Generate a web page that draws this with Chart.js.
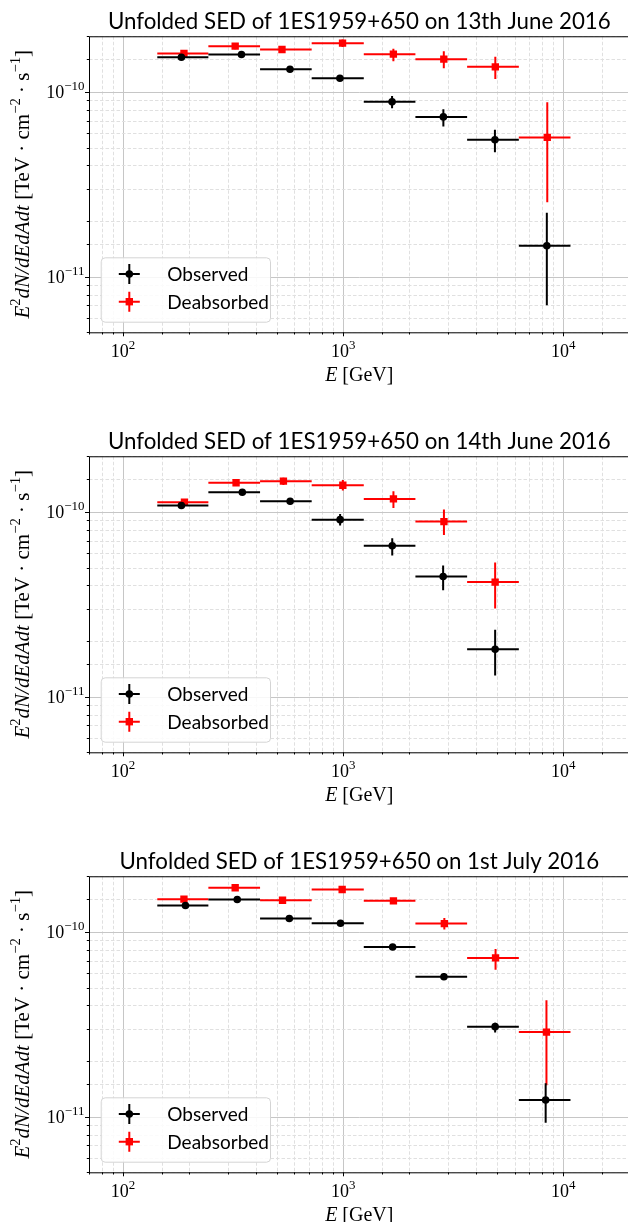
<!DOCTYPE html>
<html>
<head>
<meta charset="utf-8">
<script src="https://cdn.jsdelivr.net/npm/chart.js@4.4.0/dist/chart.umd.min.js"></script>
<style>
  html, body { margin: 0; padding: 0; background: #fff; overflow: hidden; }
  .panel { position: absolute; left: 0; }
</style>
</head>
<body>
<canvas id="sed13" class="panel" style="top:0" width="640" height="420"></canvas>
<canvas id="sed14" class="panel" style="top:420px" width="640" height="420"></canvas>
<canvas id="sed01" class="panel" style="top:840px" width="640" height="420"></canvas>
<script>
// energy bin edges [GeV], shared by all nights
const binEdges = [143, 244, 419, 719, 1240, 2128, 3655, 6278, 10775];

// 13th June 2016
const obs13E = [184, 345, 573, 966, 1667, 2851, 4889, 8414];
const obs13F = [1.54e-10, 1.594e-10, 1.326e-10, 1.185e-10, 8.83e-11, 7.32e-11, 5.51e-11, 1.47e-11];
const obs13Lo = [1.50e-10, 1.56e-10, 1.29e-10, 1.14e-10, 8.15e-11, 6.5e-11, 4.72e-11, 7.0e-12];
const obs13Hi = [1.58e-10, 1.63e-10, 1.36e-10, 1.23e-10, 9.51e-11, 8.05e-11, 6.24e-11, 2.22e-11];
const deab13E = [189, 323, 527, 993, 1690, 2864, 4909, 8453];
const deab13F = [1.614e-10, 1.768e-10, 1.696e-10, 1.835e-10, 1.60e-10, 1.503e-10, 1.366e-10, 5.67e-11];
const deab13Lo = [1.57e-10, 1.70e-10, 1.64e-10, 1.75e-10, 1.466e-10, 1.343e-10, 1.176e-10, 2.53e-11];
const deab13Hi = [1.66e-10, 1.84e-10, 1.75e-10, 1.92e-10, 1.71e-10, 1.66e-10, 1.549e-10, 8.78e-11];

// 14th June 2016
const obs14E = [184, 348, 574, 968, 1670, 2844, 4900];
const obs14F = [1.082e-10, 1.277e-10, 1.142e-10, 9.08e-11, 6.56e-11, 4.47e-11, 1.805e-11];
const obs14Lo = [1.04e-10, 1.24e-10, 1.10e-10, 8.43e-11, 5.81e-11, 3.77e-11, 1.30e-11];
const obs14Hi = [1.12e-10, 1.32e-10, 1.18e-10, 9.75e-11, 7.19e-11, 5.13e-11, 2.30e-11];
const deab14E = [190, 326, 535, 996, 1691, 2868, 4900];
const deab14F = [1.127e-10, 1.437e-10, 1.466e-10, 1.394e-10, 1.176e-10, 8.86e-11, 4.17e-11];
const deab14Lo = [1.08e-10, 1.38e-10, 1.40e-10, 1.305e-10, 1.051e-10, 7.50e-11, 3.00e-11];
const deab14Hi = [1.17e-10, 1.50e-10, 1.53e-10, 1.49e-10, 1.294e-10, 1.029e-10, 5.33e-11];

// 1st July 2016
const obs01E = [192, 330, 569, 972, 1677, 2868, 4900, 8312];
const obs01F = [1.389e-10, 1.497e-10, 1.181e-10, 1.113e-10, 8.29e-11, 5.72e-11, 3.07e-11, 1.23e-11];
const obs01Lo = [1.35e-10, 1.46e-10, 1.15e-10, 1.08e-10, 8.05e-11, 5.5e-11, 2.85e-11, 9.26e-12];
const obs01Hi = [1.43e-10, 1.54e-10, 1.21e-10, 1.145e-10, 8.55e-11, 6.0e-11, 3.22e-11, 1.515e-11];
const deab01E = [189, 323, 530, 989, 1691, 2880, 4921, 8381];
const deab01F = [1.503e-10, 1.733e-10, 1.484e-10, 1.696e-10, 1.473e-10, 1.109e-10, 7.23e-11, 2.87e-11];
const deab01Lo = [1.46e-10, 1.68e-10, 1.44e-10, 1.64e-10, 1.42e-10, 1.029e-10, 6.24e-11, 1.48e-11];
const deab01Hi = [1.55e-10, 1.79e-10, 1.53e-10, 1.75e-10, 1.52e-10, 1.19e-10, 8.09e-11, 4.26e-11];

const xRange = [70, 20000];
const yRange = [5e-12, 2e-10];
const seriesNames = ["Observed", "Deabsorbed"];

const SANS = "Lato";
const SERIF = "Liberation Serif";

const isDecade = v => Math.abs(Math.log10(v) - Math.round(Math.log10(v))) < 1e-6;
// "10" plus exponent as rich-text pieces, minus sign as U+2212
const decadeParts = v => [["10", "r"], [String(Math.round(Math.log10(v))).replace("-", "\u2212"), "s"]];

// draws text made of [text, style] pieces, style: "i" italic, "r" roman, "s" superscript
// align: 0 = centred on x, 1 = right edge on x
function drawRich(ctx, parts, x, baseline, size, align = 0, supScale = 0.7) {
    const fontOf = st => st === "i" ? `italic ${size}px ${SERIF}`
        : st === "s" ? `${size * supScale}px ${SERIF}` : `${size}px ${SERIF}`;
    let total = 0;
    parts.forEach(([t, st]) => { ctx.font = fontOf(st); total += ctx.measureText(t).width; });
    let px = align === 1 ? x - total : x - total / 2;
    ctx.textAlign = "left";
    ctx.textBaseline = "alphabetic";
    parts.forEach(([t, st]) => {
        ctx.font = fontOf(st);
        ctx.fillText(t, px, st === "s" ? baseline - size * 0.42 : baseline);
        px += ctx.measureText(t).width;
    });
}

function drawMarker(ctx, style, x, y, color) {
    ctx.fillStyle = color;
    if (style === "rect") {
        ctx.fillRect(x - 3.7, y - 3.7, 7.4, 7.4);
    } else {
        ctx.beginPath();
        ctx.arc(x, y, 3.8, 0, Math.PI * 2);
        ctx.fill();
    }
}

const sedPlugin = {
    id: "sed",
    beforeDatasetsDraw(chart) {
        // grid, minor dashed, decades solid
        const { ctx, chartArea: a, scales: { x, y } } = chart;
        ctx.save();
        ctx.beginPath();
        ctx.rect(a.left, a.top, a.right - a.left, a.bottom - a.top);
        ctx.clip();
        ctx.lineWidth = 1;
        const line = (x0, y0, x1, y1, major) => {
            ctx.strokeStyle = major ? "#c6c6c6" : "#e0e0e0";
            ctx.setLineDash(major ? [] : [3.5, 2]);
            ctx.beginPath();
            ctx.moveTo(x0, y0);
            ctx.lineTo(x1, y1);
            ctx.stroke();
        };
        x.ticks.forEach(t => {
            const px = Math.round(x.getPixelForValue(t.value)) + 0.5;
            line(px, a.top, px, a.bottom, isDecade(t.value));
        });
        y.ticks.forEach(t => {
            const py = Math.round(y.getPixelForValue(t.value)) + 0.5;
            line(a.left, py, a.right, py, isDecade(t.value));
        });
        ctx.restore();
    },
    beforeDatasetDraw(chart, args) {
        // error bars of this dataset, under its own markers
        const ds = chart.data.datasets[args.index];
        const { ctx, scales: { x, y } } = chart;
        ctx.save();
        ctx.strokeStyle = ds.borderColor;
        ctx.lineWidth = 2;
        ds.data.forEach((p, i) => {
            const px = x.getPixelForValue(p.x);
            const py = y.getPixelForValue(p.y);
            ctx.beginPath();
            ctx.moveTo(x.getPixelForValue(binEdges[i]), py);
            ctx.lineTo(x.getPixelForValue(binEdges[i + 1]), py);
            ctx.moveTo(px, y.getPixelForValue(ds.yLow[i]));
            ctx.lineTo(px, y.getPixelForValue(ds.yHigh[i]));
            ctx.stroke();
        });
        ctx.restore();
    },
    afterDraw(chart) {
        const { ctx, chartArea: a, scales: { x, y } } = chart;
        ctx.save();
        // spines
        ctx.strokeStyle = "#000";
        ctx.lineWidth = 1;
        ctx.strokeRect(a.left + 0.5, a.top + 0.5, a.right - a.left, a.bottom - a.top);
        // tick marks
        ctx.beginPath();
        x.ticks.forEach(t => {
            const px = Math.round(x.getPixelForValue(t.value)) + 0.5;
            ctx.moveTo(px, a.bottom);
            ctx.lineTo(px, a.bottom + (isDecade(t.value) ? 4 : 2.2));
        });
        y.ticks.forEach(t => {
            const py = Math.round(y.getPixelForValue(t.value)) + 0.5;
            ctx.moveTo(a.left, py);
            ctx.lineTo(a.left - (isDecade(t.value) ? 4 : 2.2), py);
        });
        ctx.stroke();

        // decade tick labels with a real superscript exponent
        ctx.fillStyle = "#000";
        x.ticks.filter(t => isDecade(t.value)).forEach(t => {
            drawRich(ctx, decadeParts(t.value), x.getPixelForValue(t.value), a.bottom + 24.4, 18, 0, 0.72);
        });
        y.ticks.filter(t => isDecade(t.value)).forEach(t => {
            drawRich(ctx, decadeParts(t.value), a.left - 4.5, y.getPixelForValue(t.value) + 6, 18, 1, 0.72);
        });

        // axis titles
        drawRich(ctx, [["E", "i"], [" [GeV]", "r"]], (a.left + a.right) / 2, a.bottom + 49, 20);
        ctx.save();
        ctx.translate(22, (a.top + a.bottom) / 2);
        ctx.rotate(-Math.PI / 2);
        drawRich(ctx, [["E", "i"], ["2", "s"], ["dN/dEdAdt", "i"], [" [TeV \u00B7 cm", "r"], ["\u22122", "s"],
            [" \u00B7 s", "r"], ["\u22121", "s"], ["]", "r"]], 0, 7, 21);
        ctx.restore();

        // legend in the lower left corner
        const bx = a.left + 11.7, bw = 169.3, bh = 64.4;
        const by = a.bottom - 10.6 - bh;
        ctx.fillStyle = "rgba(255,255,255,0.85)";
        ctx.strokeStyle = "#d4d4d4";
        ctx.lineWidth = 1;
        ctx.beginPath();
        ctx.roundRect(bx + 0.5, by + 0.5, bw, bh, 4);
        ctx.fill();
        ctx.stroke();
        chart.data.datasets.forEach((ds, i) => {
            const cx = bx + 28.6, cy = by + 16.7 + i * 27.7;
            ctx.strokeStyle = ds.borderColor;
            ctx.lineWidth = 2;
            ctx.beginPath();
            ctx.moveTo(cx - 10.5, cy); ctx.lineTo(cx + 10.5, cy);
            ctx.moveTo(cx, cy - 10); ctx.lineTo(cx, cy + 10);
            ctx.stroke();
            drawMarker(ctx, ds.pointStyle, cx, cy, ds.borderColor);
            ctx.fillStyle = "#000";
            ctx.font = `19px ${SANS}`;
            ctx.textAlign = "left";
            ctx.textBaseline = "middle";
            ctx.fillText(ds.label, bx + 66.6, cy + 1);
        });
        ctx.restore();
    }
};

const createSeries = (label, color, style, radius, E, F, lo, hi) => ({
    label: label,
    data: E.map((e, i) => ({ x: e, y: F[i] })),
    yLow: lo,
    yHigh: hi,
    borderColor: color,
    backgroundColor: color,
    pointStyle: style,
    pointRadius: radius,
    pointBorderWidth: 0,
    showLine: false
});

const createChartConfig = (title, obs, deab) => ({
    type: "scatter",
    data: {
        datasets: [
            createSeries(seriesNames[0], "#000000", "circle", 3.8, ...obs),
            createSeries(seriesNames[1], "#ff0000", "rect", 5.2, ...deab)
        ]
    },
    options: {
        responsive: false,
        animation: false,
        events: [],
        layout: { padding: { left: 0, right: 10.4, top: 0, bottom: 0 } },
        plugins: {
            legend: { display: false },
            tooltip: { enabled: false },
            title: {
                display: true, text: title, fullSize: false, color: "#000",
                font: { family: SANS, size: 22.3, weight: "normal", lineHeight: 1.2 },
                padding: { top: 8.6, bottom: 0.9 }
            }
        },
        scales: {
            x: {
                type: "logarithmic", min: xRange[0], max: xRange[1],
                afterFit: s => { s.height = 87.7; },
                grid: { display: false, drawTicks: false },
                border: { display: false },
                ticks: { display: false, autoSkip: false }
            },
            y: {
                type: "logarithmic", min: yRange[0], max: yRange[1],
                afterFit: s => { s.width = 89; },
                grid: { display: false, drawTicks: false },
                border: { display: false },
                ticks: { display: false, autoSkip: false }
            }
        }
    },
    plugins: [sedPlugin]
});

new Chart(document.getElementById("sed13"), createChartConfig("Unfolded SED of 1ES1959+650 on 13th June 2016",
    [obs13E, obs13F, obs13Lo, obs13Hi], [deab13E, deab13F, deab13Lo, deab13Hi]));
new Chart(document.getElementById("sed14"), createChartConfig("Unfolded SED of 1ES1959+650 on 14th June 2016",
    [obs14E, obs14F, obs14Lo, obs14Hi], [deab14E, deab14F, deab14Lo, deab14Hi]));
new Chart(document.getElementById("sed01"), createChartConfig("Unfolded SED of 1ES1959+650 on 1st July 2016",
    [obs01E, obs01F, obs01Lo, obs01Hi], [deab01E, deab01F, deab01Lo, deab01Hi]));
</script>
</body>
</html>
